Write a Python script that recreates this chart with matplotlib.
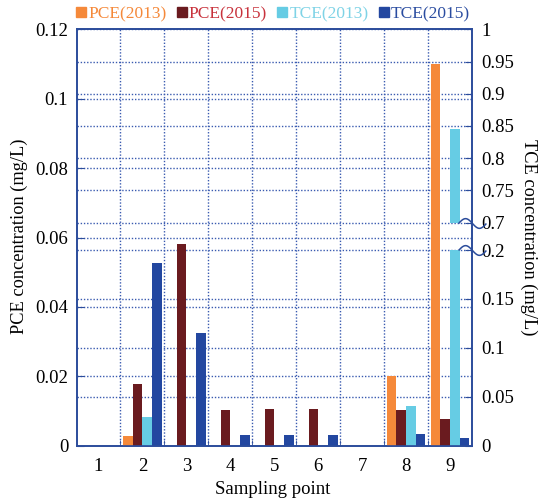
import numpy as np
import matplotlib
matplotlib.use('Agg')
import matplotlib.pyplot as plt
import matplotlib.transforms as mtrans
from matplotlib.patches import Patch
from matplotlib.path import Path

plt.rcParams['font.family'] = ['Liberation Serif', 'DejaVu Serif']

# 数据
points = ['1', '2', '3', '4', '5', '6', '7', '8', '9']
pce_2013 = [0, 0.0028, 0, 0, 0, 0, 0, 0.0202, 0.110]
pce_2015 = [0, 0.0178, 0.0582, 0.0103, 0.0106, 0.0106, 0, 0.0103, 0.0077]
tce_2013 = [0, 0.0294, 0, 0, 0, 0, 0, 0.0407, 0.845]
tce_2015 = [0, 0.187, 0.1156, 0.011, 0.011, 0.011, 0, 0.012, 0.0079]

left_ticks = [0, 0.02, 0.04, 0.06, 0.08, 0.1, 0.12]
left_labels = ['0', '0.02', '0.04', '0.06', '0.08', '0.1', '0.12']
right_ticks = [0, 0.05, 0.1, 0.15, 0.2, 0.7, 0.75, 0.8, 0.85, 0.9, 0.95, 1]
right_labels = ['0', '0.05', '0.1', '0.15', '0.2', '0.7', '0.75', '0.8', '0.85',
                '0.9', '0.95', '1']
brk_lo, brk_hi = 0.2, 0.7

c_pce13 = '#f5893a'
c_pce15 = '#6a1b1f'
c_tce13 = '#66cce4'
c_tce15 = '#2347a0'
axis_c = '#2b4c9b'
grid_c = '#3a5bb0'

# 右轴断轴刻度
seg_v = [0, brk_lo, brk_hi, 1]
seg_p = [0, 195.7, 223.2, 416.4]


def fwd(v):
    return np.interp(v, seg_v, seg_p)


def inv(p):
    return np.interp(p, seg_p, seg_v)


fig = plt.figure(figsize=(5.44, 5.01), dpi=100)
ax = fig.add_axes([76.5 / 544, 1 - 445.7 / 501, 395.5 / 544, 416.4 / 501])
ax2 = ax.twinx()
ax2.set_yscale('function', functions=(fwd, inv))
ax2.set_ylim(0, 1)
ax.set_ylim(0, 0.12)
ax.set_xlim(-0.5, len(points) - 0.5)

x = np.arange(len(points))
w = 0.22
ax.bar(x - 0.33, pce_2013, w, color=c_pce13, zorder=3)
ax.bar(x - 0.11, pce_2015, w, color=c_pce15, zorder=3)

for i, v in enumerate(tce_2013):
    if v > brk_hi:
        ax2.bar(x[i] + 0.11, brk_lo, w, color=c_tce13)
        ax2.bar(x[i] + 0.11, v - brk_hi, w, bottom=brk_hi, color=c_tce13)
    else:
        ax2.bar(x[i] + 0.11, v, w, color=c_tce13)
ax2.bar(x + 0.33, tce_2015, w, color=c_tce15)

# 网格
gls = (0, (1, 1.3))
ax.set_yticks(left_ticks)
ax.set_yticklabels(left_labels)
ax.grid(axis='y', color=grid_c, linestyle=gls, linewidth=1.0, zorder=0)
ax.set_xticks(x)
ax.set_xticklabels(points)
ax.set_xticks(np.arange(0.5, len(points) - 1, 1), minor=True)
ax.grid(axis='x', which='minor', color=grid_c, linestyle=gls, linewidth=1.0, zorder=0)
ax.grid(axis='x', which='major', visible=False)
tr = mtrans.blended_transform_factory(ax.transAxes, ax2.transData)
for v in right_ticks[1:-1]:
    ax.plot([0, 1], [v, v], transform=tr, color=grid_c, linestyle=gls,
            linewidth=1.0, zorder=0.5)
ax.set_axisbelow(True)

ax2.set_yticks(right_ticks)
ax2.set_yticklabels(right_labels)

for a in (ax, ax2):
    for s in a.spines.values():
        s.set_color(axis_c)
        s.set_linewidth(1.2)
ax.tick_params(axis='y', direction='in', length=5, color=axis_c, labelsize=13.5,
               pad=6, right=False)
ax.tick_params(axis='x', which='major', length=0, labelsize=13.5, pad=9)
ax.tick_params(axis='x', which='minor', direction='in', length=4, color=axis_c)
ax2.tick_params(axis='y', direction='in', length=5, color=axis_c, labelsize=13.5,
                pad=7)

# 断轴标记
t = np.linspace(-1, 1, 30)
squig = Path(np.column_stack([t, -0.35 * np.sin(np.pi * t)]))
for v in (brk_lo, brk_hi):
    ax2.plot([1.0], [v], marker=squig, markersize=20, markerfacecolor='none',
             markeredgecolor=axis_c, markeredgewidth=1.1, transform=tr,
             clip_on=False, zorder=5)

fig.text(19 / 544, 1 - 236 / 501, 'PCE concentration (mg/L)', rotation=90,
         ha='center', va='center', fontsize=13.2)
fig.text(529 / 544, 1 - 237 / 501, 'TCE concentration (mg/L)', rotation=270,
         ha='center', va='center', fontsize=13.2)
fig.text(273 / 544, 1 - 489 / 501, 'Sampling point', ha='center', va='center',
         fontsize=13.5)

handles = [Patch(color=c_pce13), Patch(color=c_pce15), Patch(color=c_tce13),
           Patch(color=c_tce15)]
labels = ['PCE(2013)', 'PCE(2015)', 'TCE(2013)', 'TCE(2015)']
leg = fig.legend(handles, labels, ncol=4, loc='center left',
                 bbox_to_anchor=(76 / 544, 1 - 14 / 501), frameon=False,
                 fontsize=12.5, handlelength=0.57, handleheight=0.57,
                 handletextpad=0.12, columnspacing=0.6, borderaxespad=0,
                 borderpad=0)
for txt, c in zip(leg.get_texts(), ['#f5893a', '#c8323c', '#7fd3e6', '#2a4ca0']):
    txt.set_color(c)

fig.savefig('out.png', dpi=100)
